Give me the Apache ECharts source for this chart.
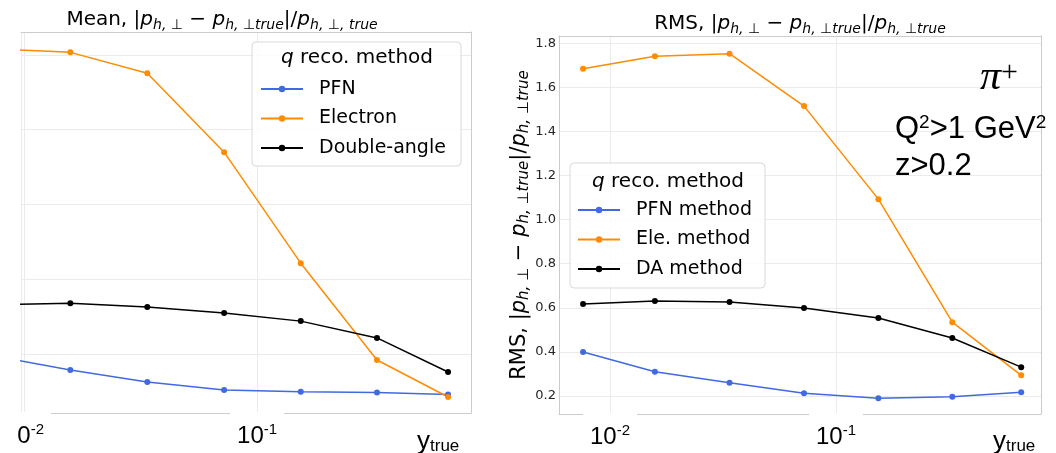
<!DOCTYPE html>
<html>
<head>
<meta charset="utf-8">
<script src="https://cdn.jsdelivr.net/npm/echarts@6/dist/echarts.min.js"></script>
<style>
  html, body { margin: 0; padding: 0; background: #fff; }
  #main { width: 1056px; height: 453px; }
</style>
</head>
<body>
<div id="main"></div>
<script>
  // y_true bin centres (shared by both panels)
  var yTrue = [0.0076, 0.0158, 0.0338, 0.0722, 0.154, 0.327, 0.66];

  // left panel: mean of |dp/p|
  var meanPFN = [0.194, 0.157, 0.125, 0.104, 0.099, 0.097, 0.092];
  var meanEle = [1.016, 1.007, 0.951, 0.740, 0.443, 0.184, 0.085];
  var meanDA = [0.332, 0.336, 0.326, 0.310, 0.288, 0.243, 0.152];

  // right panel: RMS of |dp/p|
  var rmsPFN = [0.400, 0.310, 0.260, 0.212, 0.190, 0.197, 0.217];
  var rmsEle = [1.684, 1.741, 1.753, 1.515, 1.093, 0.535, 0.294];
  var rmsDA = [0.617, 0.631, 0.626, 0.599, 0.554, 0.463, 0.331];

  var namesLeft = ['PFN', 'Electron', 'Double-angle'];
  var namesRight = ['PFN method', 'Ele. method', 'DA method'];

  var SANS = 'DejaVu Sans';
  var ARIAL = 'Liberation Sans';
  var GRIDC = '#ebebeb';
  var FRAMEC = '#cccccc';
  var BLUE = '#4169e1', ORANGE = '#ff8c00', BLACK = '#000000';

  function pairs(ys) {
    return yTrue.map(function (x, i) { return [x, ys[i]]; });
  }

  // p_{h,perp} style math text
  function mathRich(size, sub) {
    return {
      n: { fontFamily: SANS, fontSize: size, lineHeight: 24, color: '#000' },
      i: { fontFamily: SANS, fontStyle: 'italic', fontSize: size, lineHeight: 24, color: '#000' },
      s: { fontFamily: SANS, fontStyle: 'italic', fontSize: sub, lineHeight: 14, verticalAlign: 'bottom', color: '#000' }
    };
  }

  var pow10Rich = {
    b: { fontFamily: ARIAL, fontSize: 24, lineHeight: 28, color: '#000' },
    s: { fontFamily: ARIAL, fontSize: 15, lineHeight: 18, verticalAlign: 'top', color: '#000' }
  };

  function logLabel(v) {
    return '{b|10}{s|' + Math.round(Math.log10(v)) + '}';
  }

  function xAxisLog(grid, lmin, lmax) {
    return {
      type: 'log', logBase: 10, gridIndex: grid,
      min: Math.pow(10, lmin), max: Math.pow(10, lmax),
      axisLine: { show: true, lineStyle: { color: FRAMEC, width: 1 } },
      axisTick: { show: false },
      splitLine: { show: true, lineStyle: { color: GRIDC, width: 1 } },
      axisLabel: {
        formatter: logLabel, rich: pow10Rich, showMinLabel: false, showMaxLabel: false,
        margin: -1, backgroundColor: '#fff', padding: [10, 7, 0, 7]
      }
    };
  }

  function frameAxis(kind, grid) {
    return {
      type: 'value', gridIndex: grid, min: 0, max: 1,
      position: kind === 'x' ? 'top' : 'right',
      axisLine: { show: true, lineStyle: { color: FRAMEC, width: 1 } },
      axisTick: { show: false }, axisLabel: { show: false }, splitLine: { show: false }
    };
  }

  function lineSeries(name, color, xi, ys) {
    return {
      name: name, type: 'line', xAxisIndex: xi, yAxisIndex: xi,
      data: pairs(ys), symbol: 'circle', symbolSize: 6,
      lineStyle: { color: color, width: 1.5 }, itemStyle: { color: color },
      emphasis: { disabled: true }, animation: false, z: 3
    };
  }

  function legendOf(names, left, top) {
    return {
      data: names, orient: 'vertical', left: left, top: top,
      itemWidth: 42, itemHeight: 8, itemGap: 9.5, padding: 0,
      textStyle: { fontFamily: SANS, fontSize: 19, color: '#000', lineHeight: 20, padding: [0, 0, 0, 11] },
      selectedMode: false, z: 6
    };
  }

  var titleLeft = '{n|Mean, |}{i|p}{s|h, ⊥}{n| − }{i|p}{s|h, ⊥true}{n||/}{i|p}{s|h, ⊥, true}';
  var titleRight = '{n|RMS, |}{i|p}{s|h, ⊥}{n| − }{i|p}{s|h, ⊥true}{n||/}{i|p}{s|h, ⊥true}';
  var legendTitle = '{i|q}{n| reco. method}';
  var legendRich = {
    n: { fontFamily: SANS, fontSize: 20, color: '#000' },
    i: { fontFamily: SANS, fontStyle: 'italic', fontSize: 20, color: '#000' }
  };
  var yTrueRich = {
    a: { fontFamily: ARIAL, fontSize: 26, lineHeight: 26, verticalAlign: 'bottom', color: '#000' },
    b: { fontFamily: ARIAL, fontSize: 17, lineHeight: 20, verticalAlign: 'bottom', color: '#000' }
  };
  var cutRich = {
    a: { fontFamily: ARIAL, fontSize: 31, lineHeight: 32, color: '#000' },
    s: { fontFamily: ARIAL, fontSize: 19, lineHeight: 22, verticalAlign: 'top', color: '#000' }
  };

  var chart = echarts.init(document.getElementById('main'), null, { renderer: 'canvas' });

  var option = {
    backgroundColor: '#fff',
    animation: false,
    grid: [
      { left: 21, top: 32, right: 585, bottom: 40, containLabel: false, outerBoundsMode: 'none' },
      { left: 559, top: 36, right: 15, bottom: 39, containLabel: false, outerBoundsMode: 'none' }
    ],
    xAxis: [
      xAxisLog(0, -2.013, -0.082),
      xAxisLog(1, -2.2257, -0.0929),
      frameAxis('x', 0),
      frameAxis('x', 1)
    ],
    yAxis: [
      {
        type: 'value', gridIndex: 0, min: 0.0422, max: 1.0615,
        axisLine: { show: false }, axisTick: { show: false }, axisLabel: { show: false },
        splitLine: { show: true, lineStyle: { color: GRIDC, width: 1 } }
      },
      {
        type: 'value', gridIndex: 1, min: 0.1184, max: 1.833, splitNumber: 8,
        axisLine: { show: true, lineStyle: { color: FRAMEC, width: 1 } },
        axisTick: { show: false },
        axisLabel: {
          fontFamily: SANS, fontSize: 13, color: '#262626', margin: 3,
          showMinLabel: false, showMaxLabel: false,
          formatter: function (v) { return v.toFixed(1); }
        },
        splitLine: { show: true, lineStyle: { color: GRIDC, width: 1 } },
        name: titleRight, nameLocation: 'middle', nameRotate: 90, nameGap: 19,
        nameTextStyle: { rich: mathRich(21, 15) }
      },
      frameAxis('y', 0),
      frameAxis('y', 1)
    ],
    legend: [
      legendOf(namesLeft, 260, 79),
      legendOf(namesRight, 577, 200)
    ],
    graphic: [
      // the source image is trimmed on the left
      { type: 'rect', z: 10, shape: { x: 0, y: 418, width: 17, height: 35 }, style: { fill: '#fff' } },
      { type: 'rect', z: 4, shape: { x: 252, y: 42, width: 209, height: 124, r: 4 },
        style: { fill: 'rgba(255,255,255,0.85)', stroke: '#d9d9d9', lineWidth: 1 } },
      { type: 'rect', z: 4, shape: { x: 570, y: 163, width: 195, height: 125, r: 4 },
        style: { fill: 'rgba(255,255,255,0.85)', stroke: '#d9d9d9', lineWidth: 1 } },
      { type: 'text', z: 6, x: 357, y: 58,
        style: { text: legendTitle, rich: legendRich, align: 'center', verticalAlign: 'middle' } },
      { type: 'text', z: 6, x: 668, y: 182,
        style: { text: legendTitle, rich: legendRich, align: 'center', verticalAlign: 'middle' } },
      { type: 'text', z: 6, x: 222, y: 20,
        style: { text: titleLeft, rich: mathRich(20, 14), align: 'center', verticalAlign: 'middle' } },
      { type: 'text', z: 6, x: 800, y: 24,
        style: { text: titleRight, rich: mathRich(20, 14), align: 'center', verticalAlign: 'middle' } },
      { type: 'text', z: 6, x: 417, y: 455,
        style: { text: '{a|y}{b|true}', rich: yTrueRich, align: 'left', verticalAlign: 'bottom' } },
      { type: 'text', z: 6, x: 993, y: 455,
        style: { text: '{a|y}{b|true}', rich: yTrueRich, align: 'left', verticalAlign: 'bottom' } },
      { type: 'text', z: 6, x: 980, y: 78,
        style: {
          text: '{p|π}{s|+}', align: 'left', verticalAlign: 'middle',
          rich: {
            p: { fontFamily: 'Liberation Serif', fontStyle: 'italic', fontSize: 42, lineHeight: 40, color: '#000' },
            s: { fontFamily: 'Liberation Serif', fontSize: 30, lineHeight: 26, verticalAlign: 'top', color: '#000' }
          }
        } },
      { type: 'text', z: 6, x: 895, y: 129,
        style: { text: '{a|Q}{s|2}{a|>1 GeV}{s|2}', rich: cutRich, align: 'left', verticalAlign: 'middle' } },
      { type: 'text', z: 6, x: 895, y: 166,
        style: { text: 'z>0.2', fontFamily: ARIAL, fontSize: 31, fill: '#000', align: 'left', verticalAlign: 'middle' } }
    ],
    series: [
      lineSeries(namesLeft[0], BLUE, 0, meanPFN),
      lineSeries(namesLeft[1], ORANGE, 0, meanEle),
      lineSeries(namesLeft[2], BLACK, 0, meanDA),
      lineSeries(namesRight[0], BLUE, 1, rmsPFN),
      lineSeries(namesRight[1], ORANGE, 1, rmsEle),
      lineSeries(namesRight[2], BLACK, 1, rmsDA)
    ]
  };

  chart.setOption(option);
</script>
</body>
</html>
